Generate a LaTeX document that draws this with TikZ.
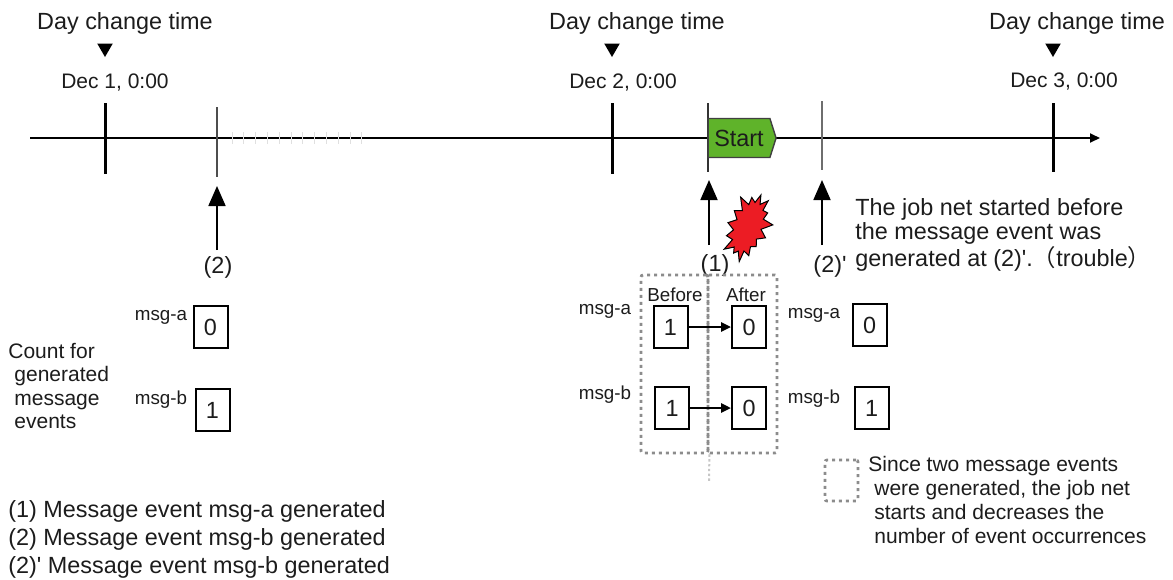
\documentclass[tikz,border=0pt]{standalone}
\usepackage{fontspec}
\setmainfont{Liberation Sans}
\newfontfamily\cjk{Noto Sans CJK JP}
\usepackage{tikz}
\usetikzlibrary{positioning,arrows.meta,shapes.geometric,shapes.symbols}
\definecolor{InkDark}{HTML}{1C1C1C}
\definecolor{TickGray}{HTML}{6E6E6E}
\definecolor{DotGray}{HTML}{8C8C8C}
\definecolor{StartGreen}{HTML}{5FB32A}
\definecolor{BurstRed}{HTML}{EC1C24}

\begin{document}
\begin{tikzpicture}[x=0.5pt, y=-0.5pt, >=Stealth,
    every node/.style={inner sep=0pt, text=InkDark},
    bigtext/.style={font=\fontsize{11.7}{12}\selectfont},
    midtext/.style={font=\fontsize{10.5}{11.9}\selectfont},
    smalltext/.style={font=\fontsize{9.4}{11}\selectfont},
    countbox/.style={draw=black, line width=1pt, fill=white, minimum width=17pt, minimum height=21pt, font=\fontsize{11.7}{12}\selectfont},
    dotbox/.style={draw=DotGray, line width=1.4pt, dash pattern=on 1.5pt off 2pt, rounded corners=1pt},
    dayflag/.style={regular polygon, regular polygon sides=3, shape border rotate=180, fill=black, minimum size=9pt},
    daytick/.style={line width=1.5pt, black},
    eventup/.style={-{Triangle[width=8.5pt,length=10pt]}, line width=0.9pt, black},
    countarrow/.style={-{Triangle[width=4.5pt,length=5pt]}, line width=1.2pt, black}]
  \useasboundingbox (0,0) rectangle (1173,579);

  % Time axis
  \coordinate (axisL) at (30,138);
  \coordinate (axisR) at (1100,138);
  \draw [-{Triangle[width=4.5pt,length=5pt]}, line width=0.9pt, black] (axisL) -- (axisR);

  % Ticks
  \foreach \tx in {0,...,11} {\draw [line width=0.5pt, black!12] (232+\tx*11.8,132) -- (232+\tx*11.8,144);}
  \coordinate (dayAtop) at (105,103); \coordinate (dayAbot) at (105,174);
  \coordinate (dayBtop) at (612,103); \coordinate (dayBbot) at (612,174);
  \coordinate (dayCtop) at (1053,103); \coordinate (dayCbot) at (1053,172);
  \coordinate (evBtop) at (217,107); \coordinate (evBbot) at (217,177);
  \coordinate (evAtop) at (708,103); \coordinate (evAbot) at (708,172);
  \coordinate (evCtop) at (822,101); \coordinate (evCbot) at (822,170);
  \draw [daytick] (dayAtop) -- (dayAbot);
  \draw [daytick] (dayBtop) -- (dayBbot);
  \draw [daytick] (dayCtop) -- (dayCbot);
  \draw [line width=0.8pt, TickGray!70!black] (evBtop) -- (evBbot);
  \draw [line width=0.8pt, black!80] (evAtop) -- (evAbot);
  \draw [line width=1.2pt, TickGray] (evCtop) -- (evCbot);

  % Day change labels
  \node [bigtext, anchor=base] (dayAtxt) at (125,29) {Day change time};
  \node [bigtext, anchor=base] (dayBtxt) at (637,29) {Day change time};
  \node [bigtext, anchor=base] (dayCtxt) at (1077,29) {Day change time};
  \node [dayflag] (flagA) at (105,48) {};
  \node [dayflag] (flagB) at (612,48) {};
  \node [dayflag] (flagC) at (1053,48) {};
  \node [midtext, anchor=base] (dateA) at (115,88) {Dec 1, 0:00};
  \node [midtext, anchor=base] (dateB) at (623,88) {Dec 2, 0:00};
  \node [midtext, anchor=base] (dateC) at (1064,87) {Dec 3, 0:00};

  % Start marker
  \node [signal, signal to=east, signal pointer angle=145, draw=black!75, line width=0.7pt, fill=StartGreen, minimum width=34pt, minimum height=19.5pt, bigtext] (start) at (739,138) {Start};

  % Event arrows
  \node [bigtext, anchor=base] (labB) at (218,273) {(2)};
  \node [bigtext, anchor=base] (labA) at (715,271) {(1)};
  \node [bigtext, anchor=base] (labC) at (830,272) {(2)\textquotesingle};
  \coordinate (tipB) at (217,186); \coordinate (tailB) at (217,250);
  \coordinate (tipA) at (709,180); \coordinate (tailA) at (709,245);
  \coordinate (tipC) at (822,180); \coordinate (tailC) at (822,245);
  \draw [eventup] (tailB) -- (tipB);
  \draw [eventup] (tailA) -- (tipA);
  \draw [eventup] (tailC) -- (tipC);
  \node [starburst, starburst points=15, starburst point height=6pt, draw=black, line width=0.5pt, fill=BurstRed, minimum width=25pt, minimum height=38pt, rotate=-22] (burst) at (748,227) {};

  % Before / After frames
  \node [dotbox, minimum width=33.5pt, minimum height=89pt] (frameBefore) at (674.5,364) {};
  \node [dotbox, minimum width=34.5pt, minimum height=89pt] (frameAfter) at (742.5,364) {};
  \coordinate (frameEnd) at (709,482);
  \draw [line width=1pt, DotGray!50, dash pattern=on 1.2pt off 1.2pt] (frameBefore.south east) -- (frameEnd);
  \node [smalltext, anchor=base] (txtBefore) at (675,301) {Before};
  \node [smalltext, anchor=base] (txtAfter) at (746,301) {After};

  % Count boxes
  \node [countbox] (leftA) at (210.5,327) {0};
  \node [countbox] (leftB) at (212.5,410) {1};
  \node [countbox] (beforeA) at (670.5,327) {1};
  \node [countbox] (beforeB) at (672,408) {1};
  \node [countbox] (afterA) at (749,327) {0};
  \node [countbox] (afterB) at (749,408) {0};
  \node [countbox] (rightA) at (869.5,325) {0};
  \node [countbox] (rightB) at (871.5,408) {1};
  \draw [countarrow] (beforeA) -- (afterA);
  \draw [countarrow] (beforeB) -- (afterB);

  % msg labels
  \node [smalltext, anchor=base] (msgLA) at (161,320) {msg-a};
  \node [smalltext, anchor=base] (msgLB) at (161,404) {msg-b};
  \node [smalltext, anchor=base] (msgMA) at (605,314) {msg-a};
  \node [smalltext, anchor=base] (msgMB) at (605,399) {msg-b};
  \node [smalltext, anchor=base] (msgRA) at (814,318) {msg-a};
  \node [smalltext, anchor=base] (msgRB) at (814,403) {msg-b};

  % Notes
  \node [anchor=north west, align=left, font=\fontsize{10.5}{11.65}\selectfont] (countNote) at (8,343) {Count for\\\hspace*{3pt}generated\\\hspace*{3pt}message\\\hspace*{3pt}events};
  \node [bigtext, anchor=north west, align=left] (troubleNote) at (855,198) {The job net started before\\the message event was\\generated at (2)\textquotesingle.{\cjk （}trouble{\cjk ）}};
  \node [dotbox, minimum width=16.5pt, minimum height=20.5pt] (keyBox) at (841.5,480.5) {};
  \node [midtext, anchor=north west, align=left] (keyNote) at (868,456) {Since two message events\\\hspace*{3pt}were generated, the job net\\\hspace*{3pt}starts and decreases the\\\hspace*{3pt}number of event occurrences};
  \node [anchor=north west, align=left, font=\fontsize{11.7}{14}\selectfont] (legend) at (8,500) {(1) Message event msg-a generated\\(2) Message event msg-b generated\\(2)\textquotesingle{} Message event msg-b generated};
\end{tikzpicture}
\end{document}
